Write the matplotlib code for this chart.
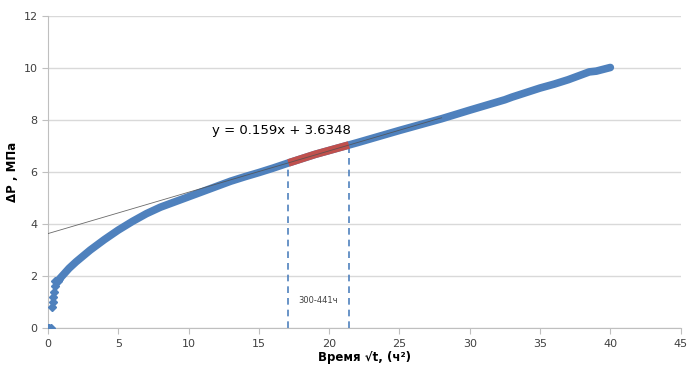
import matplotlib
matplotlib.use("Agg")
import matplotlib.pyplot as plt
import numpy as np

# --- data ---
x_start = [0.0, 0.1, 0.2, 0.28, 0.33, 0.38, 0.43, 0.48, 0.53, 0.6, 0.7, 0.8]
y_start = [0.0, 0.0, 0.0, 0.8, 1.0, 1.2, 1.4, 1.6, 1.8, 1.8, 1.82, 1.88]

x_curve = [0.8, 1.0, 1.5, 2, 3, 4, 5, 6, 7, 8, 9, 10, 11, 12, 13, 14, 15, 16, 17.1,
           19, 21.4, 22, 25, 28, 30, 32, 32.5, 33, 35, 36, 37, 38, 38.5, 39, 40]
y_curve = [1.88, 2.0, 2.3, 2.55, 3.0, 3.4, 3.77, 4.1, 4.4, 4.65, 4.85, 5.05, 5.25, 5.45,
           5.65, 5.82, 5.98, 6.15, 6.35, 6.68, 7.04, 7.13, 7.6, 8.05, 8.38, 8.7, 8.78,
           8.88, 9.23, 9.38, 9.55, 9.75, 9.85, 9.88, 10.02]

x_red = [17.1, 19.0, 21.4]
y_red = [6.35, 6.68, 7.04]

slope, intercept = 0.159, 3.6348
trend_x = [0.0, 28.0]
interval_x = [17.1, 21.4]
interval_label = "300-441ч"
eq_label = "y = 0.159x + 3.6348"

blue = "#4F81BD"
red = "#C0504D"

fig = plt.figure(figsize=(6.99, 3.72), dpi=100)
ax = fig.add_axes([0.0687, 0.118, 0.905, 0.839])

ax.plot(x_curve, y_curve, color=blue, lw=5.5, solid_capstyle="round", zorder=3)
ax.plot(x_start, y_start, color=blue, lw=0, marker="D", ms=4, zorder=3)
ax.plot(x_red, y_red, color=red, lw=5.5, solid_capstyle="butt", zorder=4)

tx = np.array(trend_x)
ax.plot(tx, slope * tx + intercept, color="#505050", lw=0.6, alpha=0.85, zorder=5)

for xv in interval_x:
    ax.plot([xv, xv], [0, slope * xv + intercept], color=blue, lw=1.2,
            ls=(0, (4, 3)), zorder=2)

ax.text(17.8, 1.08, interval_label, fontsize=6, color="#404040", va="center")
ax.text(11.7, 7.6, eq_label, fontsize=9.5, color="#000000", va="center")

ax.set_xlim(0, 45)
ax.set_ylim(0, 12)
ax.set_xticks(range(0, 46, 5))
ax.set_yticks(range(0, 13, 2))
ax.yaxis.grid(True, color="#D9D9D9", lw=1)
ax.set_axisbelow(True)
for s in ["top", "right"]:
    ax.spines[s].set_visible(False)
for s in ["left", "bottom"]:
    ax.spines[s].set_color("#BFBFBF")
ax.tick_params(axis="both", colors="#BFBFBF", labelcolor="#404040", labelsize=8,
               length=4, direction="out")

ax.set_xlabel("Время √t, (ч²)", fontsize=8.5, fontweight="bold", labelpad=2)
ax.set_ylabel("ΔP , МПа", fontsize=8.5, fontweight="bold", labelpad=3)

fig.savefig("out.png", dpi=100)
